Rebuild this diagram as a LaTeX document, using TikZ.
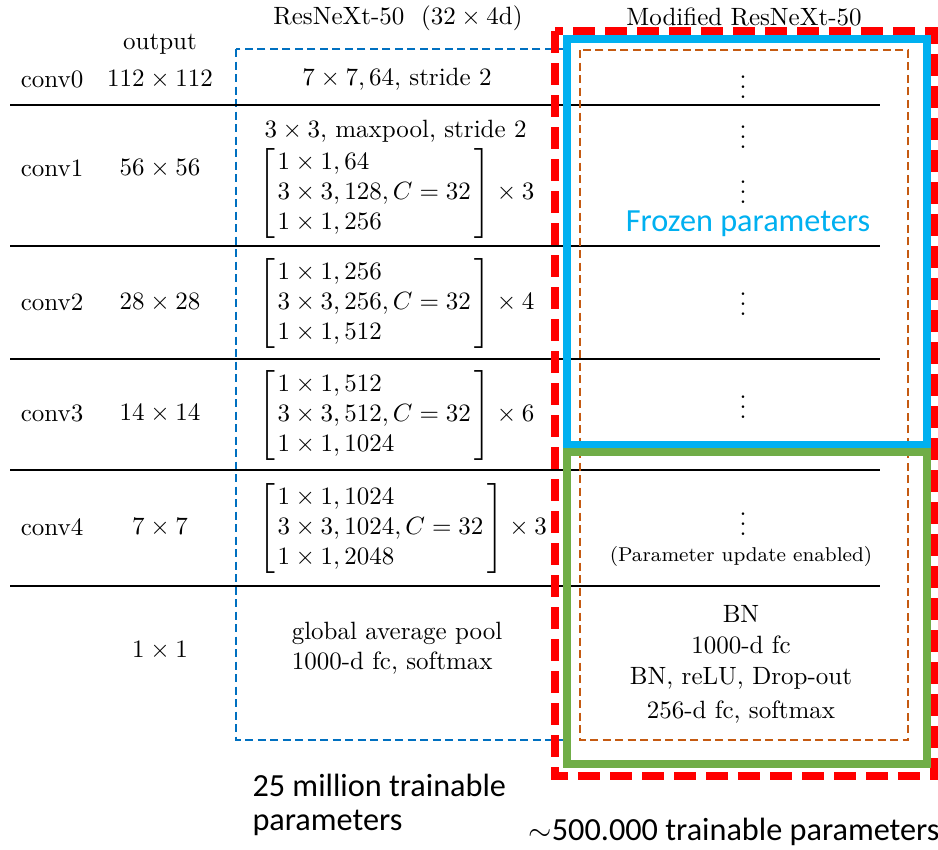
\documentclass[tikz,border=0pt]{standalone}
\usepackage{fontspec}
\newfontfamily\calibri{Carlito}
\definecolor{rblue}{HTML}{0070C0}
\definecolor{rcyan}{HTML}{00B0F0}
\definecolor{rgreen}{HTML}{70AD47}
\definecolor{rorange}{HTML}{C55A11}
\newcommand{\blockmat}[4]{$\left[\begin{array}{@{\hspace{1pt}}l@{\hspace{1.5pt}}}#1\\#2\\#3\end{array}\right]\times #4$}
\begin{document}
\begin{tikzpicture}[x=0.40pt,y=-0.40pt,
  rule/.style={line width=0.9pt},
  txt/.style={inner sep=0pt},
  mat/.style={inner sep=0pt, anchor=west},
  dot/.style={inner sep=0pt},
  sans/.style={inner sep=0pt, font=\calibri\fontsize{12.9}{16}\selectfont},
  bluebox/.style={draw=rblue, line width=0.8pt, dash pattern=on 3.2pt off 1.8pt},
  orangebox/.style={draw=rorange, line width=0.8pt, dash pattern=on 3.2pt off 1.8pt},
  cyanbox/.style={draw=rcyan, line width=2.9pt},
  greenbox/.style={draw=rgreen, line width=2.9pt},
  redbox/.style={draw=red, line width=3.2pt, dash pattern=on 8.8pt off 4pt}]
\useasboundingbox (0,0) rectangle (938,849);
% boxes
\draw[bluebox] (236,49) rectangle (566,740);
% rules
\foreach \yy in {105,246,359,470,586} \draw[rule] (10,\yy) -- (880,\yy);
\draw[orangebox] (580,50) rectangle (908,740);
\draw[redbox] (555,31) rectangle (934,776);
\draw[cyanbox] (567,39) rectangle (927,445);
\draw[greenbox] (567,452) rectangle (927,764);
% headers
\node[txt] (t1) at (398,18) {ResNeXt-50\ \ ($32\times 4$d)};
\node[txt] (t2) at (744,17) {Modified ResNeXt-50};
\node[txt] (outh) at (160,44) {output};
% rows
\node[txt] (c0) at (52,79) {conv0};
\node[txt] (o0) at (160,79) {$112\times112$};
\node[txt] (r0) at (397,79) {$7\times7,64,$ stride 2};
\node[txt] (c1) at (52,168) {conv1};
\node[txt] (o1) at (160,168) {$56\times56$};
\node[mat] (p1) at (264,131) {$3\times3,$ maxpool, stride 2};
\node[mat] (m1) at (258,193) {\blockmat{1\times1,64}{3\times3,128,C=32}{1\times1,256}{3}};
\node[txt] (c2) at (52,302) {conv2};
\node[txt] (o2) at (160,302) {$28\times28$};
\node[mat] (m2) at (258,303) {\blockmat{1\times1,256}{3\times3,256,C=32}{1\times1,512}{4}};
\node[txt] (c3) at (52,413) {conv3};
\node[txt] (o3) at (160,413) {$14\times14$};
\node[mat] (m3) at (258,415) {\blockmat{1\times1,512}{3\times3,512,C=32}{1\times1,1024}{6}};
\node[txt] (c4) at (52,527) {conv4};
\node[txt] (o4) at (160,527) {$7\times7$};
\node[mat] (m4) at (258,528) {\blockmat{1\times1,1024}{3\times3,1024,C=32}{1\times1,2048}{3}};
\node[txt] (o5) at (160,650) {$1\times1$};
\node[txt, align=left] (gp) at (397,648) {global average pool\\1000-d fc, softmax};
% modified column
\node[dot] (d0) at (743,80) {$\vdots$};
\node[dot] (d1) at (743,130) {$\vdots$};
\node[dot] (d2) at (743,185) {$\vdots$};
\node[dot] (d3) at (743,297) {$\vdots$};
\node[dot] (d4) at (743,400) {$\vdots$};
\node[dot] (d5) at (743,517) {$\vdots$};
\node[sans, text=rcyan] (fz) at (748,224) {Frozen parameters};
\node[txt, font=\footnotesize] (pu) at (741,556) {(Parameter update enabled)};
\node[txt] (h1) at (741,614) {BN};
\node[txt] (h2) at (741,645) {1000-d fc};
\node[txt] (h3) at (741,678) {BN, reLU, Drop-out};
\node[txt] (h4) at (741,712) {256-d fc, softmax};
% captions
\node[sans, anchor=west] (cap1) at (252,785) {25 million trainable};
\node[sans, anchor=west] (cap2) at (252,823) {parameters};
\node[sans, anchor=west] (cap3) at (528,832) {$\sim$500.000 trainable parameters};
\end{tikzpicture}
\end{document}
